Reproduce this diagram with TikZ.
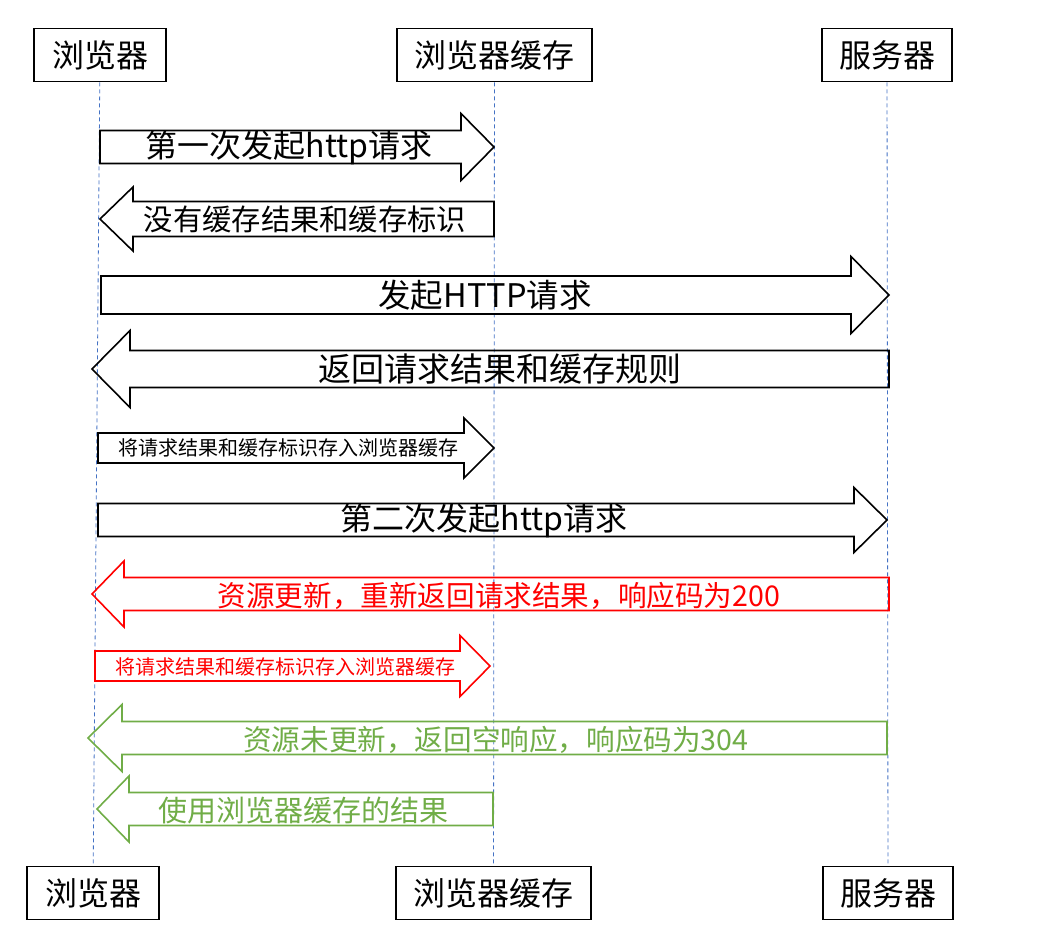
\documentclass[tikz,border=0pt]{standalone}
\usepackage{fontspec}
\setmainfont{Noto Sans CJK SC}
\usepackage{tikz}
\usetikzlibrary{positioning}
\usetikzlibrary{calc}

\definecolor{lifeblue}{HTML}{4472C4}
\definecolor{okgreen}{HTML}{70AD47}

% block arrow: [style]{tail x}{head base x}{tip x}{y}{half body}{half head}
\newcommand{\blockarrow}[7][]{%
  \draw[#1] (#2,#5-#6) -- (#3,#5-#6) -- (#3,#5-#7) -- (#4,#5)
            -- (#3,#5+#7) -- (#3,#5+#6) -- (#2,#5+#6) -- cycle;}

\begin{document}
\begin{tikzpicture}[ x = 1pt, y = -1pt
                     , every node/.style = { align = center
                                           , inner sep = 0pt }
                     , actor/.style = { rectangle
                                      , draw = black
                                      , line width = 1.8pt
                                      , minimum height = 53pt
                                      , font = \fontsize{32}{38}\selectfont }
                     , lifeline/.style = { lifeblue
                                         , line width = 0.8pt
                                         , dash pattern = on 4pt off 3pt }
                     , blk/.style = { draw = black, line width = 1.6pt }
                     , hot/.style = { draw = red, line width = 1.6pt }
                     , cold/.style = { draw = okgreen, line width = 1.6pt }
                     , fs/.style = { font = \fontsize{#1}{#1}\selectfont }
                     ]
  \useasboundingbox (0,0) rectangle (1043,935);

  %%
  %% Nodes
  %%
  \node (brw)    [actor, minimum width = 132pt] at (100,55)   {浏览器};
  \node (cache)  [actor, minimum width = 195pt] at (494.5,55) {浏览器缓存};
  \node (srv)    [actor, minimum width = 130pt] at (887,55)   {服务器};
  \node (brwB)   [actor, minimum width = 132pt] at (93,893)   {浏览器};
  \node (cacheB) [actor, minimum width = 195pt] at (493.5,893) {浏览器缓存};
  \node (srvB)   [actor, minimum width = 130pt] at (888,893)  {服务器};

  %%
  %% Lifelines
  %%
  \draw[lifeline] (brw) -- (brwB);
  \draw[lifeline] (cache) -- (cacheB);
  \draw[lifeline] (srv) -- (srvB);

  %%
  %% Messages (block arrows)
  %%
  % First request: nothing in the cache yet.
  \blockarrow[blk]{100}{461}{494}{147}{16.5}{33.5}
  \node (req1) [fs=32] at (289,148) {第一次发起http请求};
  \blockarrow[blk]{494}{133}{100}{219}{17.5}{32}
  \node (miss) [fs=29.3] at (305,219) {没有缓存结果和缓存标识};
  \blockarrow[blk]{101}{851}{889}{295}{19}{38.5}
  \node (req2) [fs=32.5] at (485,295) {发起HTTP请求};
  \blockarrow[blk]{889}{130}{92}{369}{18.5}{38.5}
  \node (rule) [fs=33] at (500,369) {返回请求结果和缓存规则};
  \blockarrow[blk]{98}{464}{494}{448}{15}{30}
  \node (save1) [fs=20] at (288,448) {将请求结果和缓存标识存入浏览器缓存};

  % Second request: answer depends on the resource.
  \blockarrow[blk]{98}{854}{887}{520}{16.5}{32.5}
  \node (req3) [fs=32] at (484,521) {第二次发起http请求};
  \blockarrow[hot]{889}{124}{92}{594}{16.5}{33}
  \node (new) [fs=28.6] at (499,596) [text = red] {资源更新，重新返回请求结果，响应码为200};
  \blockarrow[hot]{95}{460}{490}{666}{15}{30.5}
  \node (save2) [fs=20, text = red] at (285,667) {将请求结果和缓存标识存入浏览器缓存};
  \blockarrow[cold]{887}{122}{88}{738}{16.5}{33.5}
  \node (same) [fs=28.6, text = okgreen] at (496,740) {资源未更新，返回空响应，响应码为304};
  \blockarrow[cold]{493}{129}{97}{809}{16.5}{33}
  \node (use) [fs=29, text = okgreen] at (303,810) {使用浏览器缓存的结果};
\end{tikzpicture}
\end{document}
